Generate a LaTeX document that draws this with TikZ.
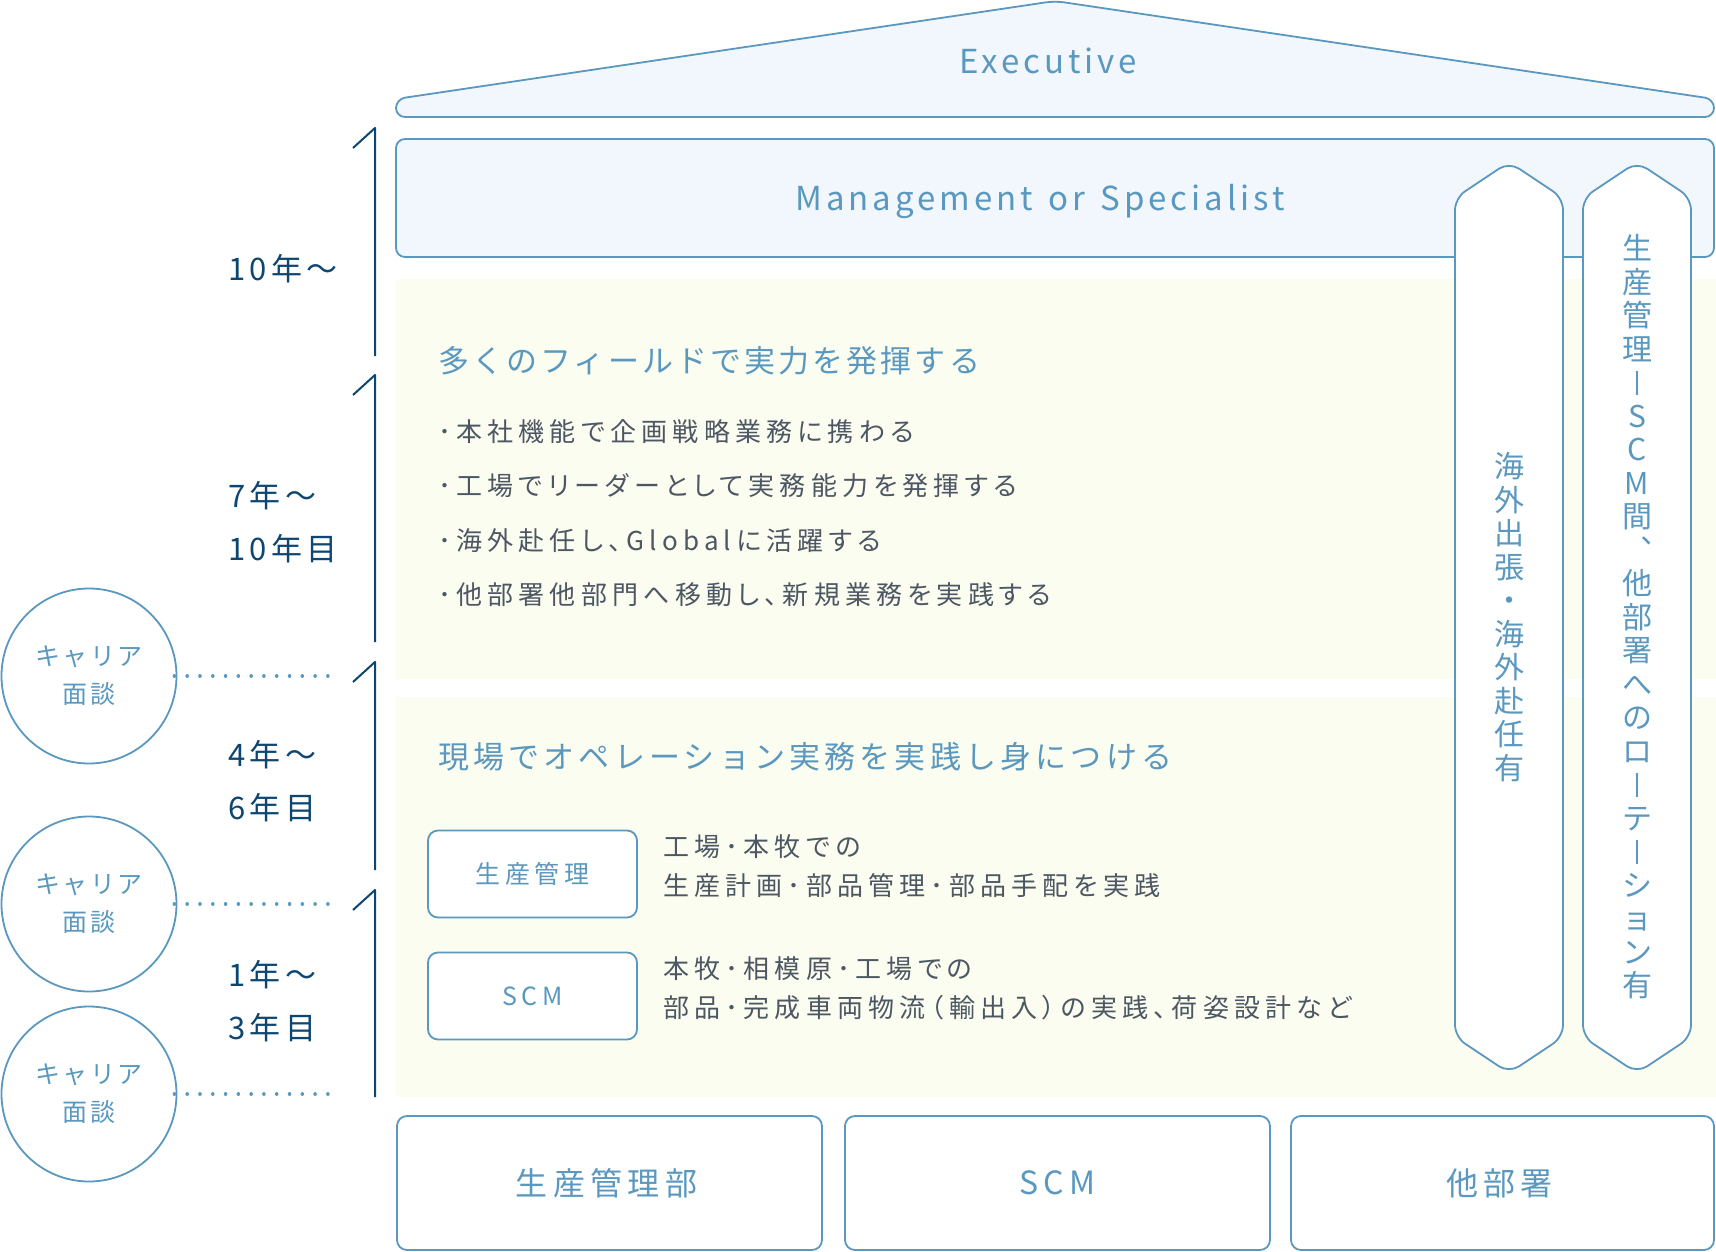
\documentclass[tikz,border=0pt]{standalone}
\usepackage{fontspec}
\setmainfont{Noto Sans CJK JP}
\newcommand{\trk}[1]{\addfontfeatures{LetterSpace=#1}}
\newcommand{\prop}{\addfontfeatures{RawFeature=+palt}}
\newcommand{\vbar}{\rule[-0.02em]{2.4pt}{0.8em}}
\definecolor{hblue}{HTML}{5A98BF}
\definecolor{hnavy}{HTML}{0D4670}
\definecolor{hgray}{HTML}{4D5763}
\definecolor{hroof}{HTML}{F1F7FC}
\definecolor{hpanel}{HTML}{FBFDF0}

\begin{document}
\begin{tikzpicture}[x=1pt, y=-1pt, line join=round, every node/.style={inner sep=0pt},
	edge/.style={draw=hblue, line width=1.8pt},
	tier/.style={edge, fill=hroof, rounded corners=9pt},
	panel/.style={fill=hpanel, minimum width=1320pt, minimum height=400pt},
	pillar/.style={edge, fill=white, rounded corners=12pt},
	dept/.style={edge, fill=white, rounded corners=10pt, minimum width=425pt, minimum height=134pt, text=hblue, font=\fontsize{32}{36}\selectfont\trk{17}},
	unit/.style={edge, fill=white, rounded corners=10pt, minimum width=209pt, minimum height=87pt, text=hblue, font=\fontsize{25}{28}\selectfont\trk{19}},
	talk/.style={edge, circle, fill=white, minimum size=175pt, align=center, text=hblue, font=\fontsize{25}{38}\selectfont\trk{9}},
	yr/.style={anchor=west, align=left, text=hnavy, font=\fontsize{31}{53}\selectfont\trk{14}},
	head/.style={anchor=west, text=hblue, font=\fontsize{31}{36}\selectfont\trk{10}},
	body/.style={anchor=west, align=left, text=hgray, font=\fontsize{26}{39}\selectfont\prop\trk{20}},
	vert/.style={align=center, text=hblue, font=\fontsize{30}{33.5}\selectfont},
	tick/.style={draw=hnavy, line width=2pt},
	dots/.style={draw=hblue, line width=3.6pt, line cap=round, dash pattern=on 0.01pt off 12.78pt}]
	\useasboundingbox (0,0) rectangle (1716,1252);
	\node[panel] (upper) at (1056,478.5) {};
	\node[panel] (lower) at (1056,897) {};
	\draw[tier] (1055,1) -- (1714,99) -- (1714,117) -- (396,117) -- (396,99) -- cycle;
	\node[text=hblue, font=\fontsize{33}{36}\selectfont\trk{12}] (exec) at (1048,61) {Executive};
	\node[tier, minimum width=1318pt, minimum height=118pt] (mgmt) at (1055,198) {};
	\node[text=hblue, font=\fontsize{33}{36}\selectfont\trk{12}] (mgmttxt) at (1040,201) {Management\hspace{4pt} or\hspace{4pt} Specialist};
	\foreach \cx in {1509, 1637}
		\draw[pillar] (\cx,162) -- (\cx+54,198) -- (\cx+54,1037) -- (\cx,1073) -- (\cx-54,1037) -- (\cx-54,198) -- cycle;
	\node[vert] (abroad) at (1509,617) {海\\外\\出\\張\\・\\海\\外\\赴\\任\\有};
	\node[vert] (rotate) at (1637,617) {生\\産\\管\\理\\\vbar\\S\\C\\M\\間\\︑\\他\\部\\署\\へ\\の\\ロ\\\vbar\\テ\\\vbar\\シ\\ョ\\ン\\有};
	\node[head] (field) at (438,361) {多くのフィールドで実力を発揮する};
	\node[body, font=\fontsize{26}{54.3}\selectfont\prop\trk{20}] (duties) at (438,513) {･本社機能で企画戦略業務に携わる\\･工場でリーダーとして実務能力を発揮する\\･海外赴任し、Globalに活躍する\\･他部署他部門へ移動し、新規業務を実践する};
	\node[head, font=\fontsize{31}{36}\selectfont\trk{13.5}] (site) at (438,757) {現場でオペレーション実務を実践し身につける};
	\node[unit] (pc) at (532.5,874) {生産管理};
	\node[unit] (scm) at (532.5,996) {SCM};
	\node[body] (pctxt) at (663,866.5) {工場･本牧での\\生産計画･部品管理･部品手配を実践};
	\node[body] (scmtxt) at (663,988) {本牧･相模原･工場での\\部品･完成車両物流（輸出入）の実践、荷姿設計など};
	\node[dept] (prod) at (609.5,1183) {生産管理部\rule{6pt}{0pt}};
	\node[dept] (scmdept) at (1057.5,1183) {SCM};
	\node[dept, minimum width=423pt] (other) at (1502.5,1183) {他部署\rule{6pt}{0pt}};
	\draw[tick] (353,148) -- (375,128) -- (375,356);
	\draw[tick] (353,395) -- (375,375) -- (375,642);
	\draw[tick] (353,682) -- (375,662) -- (375,870);
	\draw[tick] (353,910) -- (375,890) -- (375,1097);
	\node[yr] (y10) at (228,269) {10年〜};
	\node[yr] (y7) at (228,522.5) {7年〜\\10年目};
	\node[yr] (y4) at (228,781.5) {4年〜\\6年目};
	\node[yr] (y1) at (228,1001.5) {1年〜\\3年目};
	\foreach \i/\y in {1/676, 2/904, 3/1094} {
		\node[talk] (c\i) at (89,\y) {キャリア\\面談};
		\coordinate (d\i) at (328,\y);
		\draw[dots] ([xshift=-3pt]c\i.east) -- (d\i);
	}
\end{tikzpicture}
\end{document}
